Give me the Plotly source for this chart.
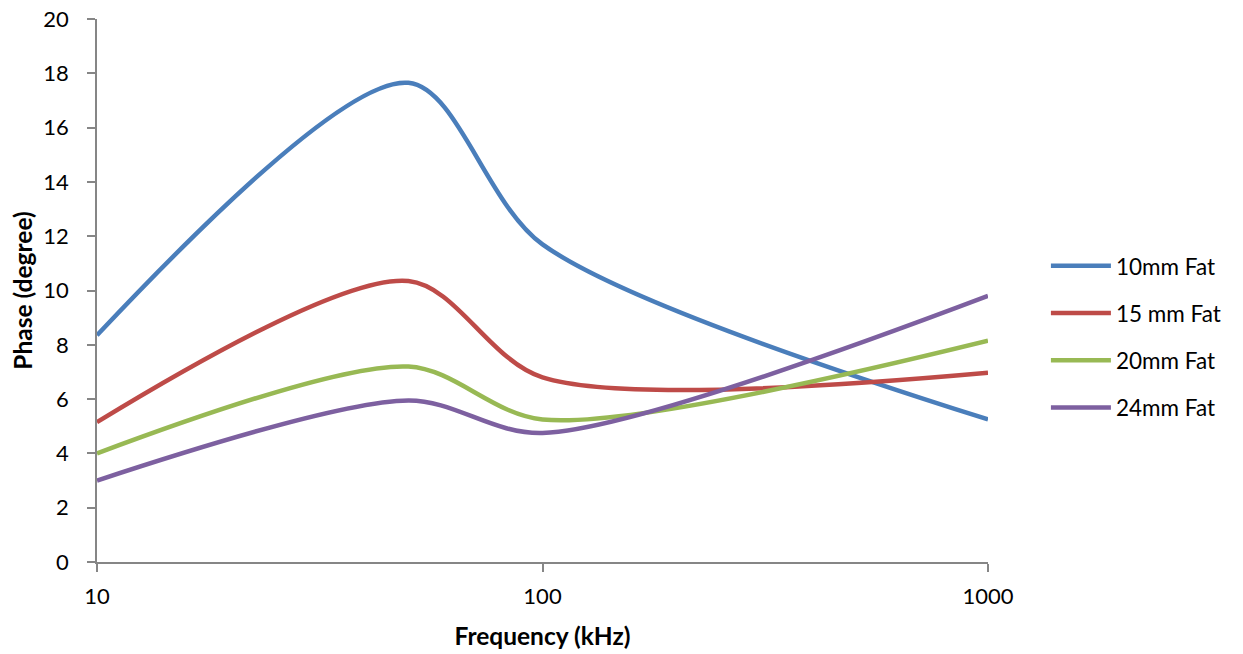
import plotly.graph_objects as go

freq_khz = [10, 50, 100, 1000]
series_names = ["10mm Fat", "15 mm Fat", "20mm Fat", "24mm Fat"]
fat10 = [8.35, 17.65, 11.7, 5.25]
fat15 = [5.15, 10.35, 6.8, 6.97]
fat20 = [4.0, 7.2, 5.25, 8.15]
fat24 = [3.0, 5.95, 4.75, 9.8]
colors = ["#4A7EBB", "#BE4B48", "#98B954", "#7D60A0"]
x_ticks = [10, 100, 1000]
y_ticks = [0, 2, 4, 6, 8, 10, 12, 14, 16, 18, 20]

font_family = "Lato, 'Open Sans', sans-serif"

fig = go.Figure()
for i, (name, vals) in enumerate(zip(series_names, [fat10, fat15, fat20, fat24])):
    fig.add_trace(go.Scatter(
        x=freq_khz, y=vals, name=name, mode="lines",
        line=dict(color=colors[i], width=4.5, shape="spline", smoothing=0.85),
        legendgroup=f"g{i}",
    ))

axis_color = "#868686"
fig.update_layout(
    width=1243, height=654,
    margin=dict(l=97, r=255, t=19, b=92),
    paper_bgcolor="white", plot_bgcolor="white",
    font=dict(family=font_family, size=22, color="#000000"),
    showlegend=True,
    legend=dict(
        x=1.065, xanchor="left", y=0.415, yanchor="middle",
        font=dict(family=font_family, size=22.5, color="#000000"),
        traceorder="grouped", tracegroupgap=15,
        itemwidth=60, bgcolor="rgba(0,0,0,0)",
    ),
    xaxis=dict(
        type="log", range=[1, 3], automargin=False,
        tickvals=x_ticks, ticktext=[str(v) for v in x_ticks],
        showgrid=False, zeroline=False,
        showline=True, linecolor=axis_color, linewidth=1.5,
        ticks="outside", ticklen=8, tickcolor=axis_color, tickwidth=1.5,
        tickfont=dict(size=22), ticklabelstandoff=6,
        title=dict(text="<b>Frequency (kHz)</b>", font=dict(size=24.5), standoff=20),
    ),
    yaxis=dict(
        range=[0, 20], automargin=False,
        tickvals=y_ticks,
        showgrid=False, zeroline=False,
        showline=True, linecolor=axis_color, linewidth=1.5,
        ticks="outside", ticklen=8, tickcolor=axis_color, tickwidth=1.5,
        tickfont=dict(size=22), ticklabelstandoff=14,
        title=dict(text="<b>Phase (degree)</b>", font=dict(size=24.5), standoff=4),
    ),
)

fig.write_html("out.html")
